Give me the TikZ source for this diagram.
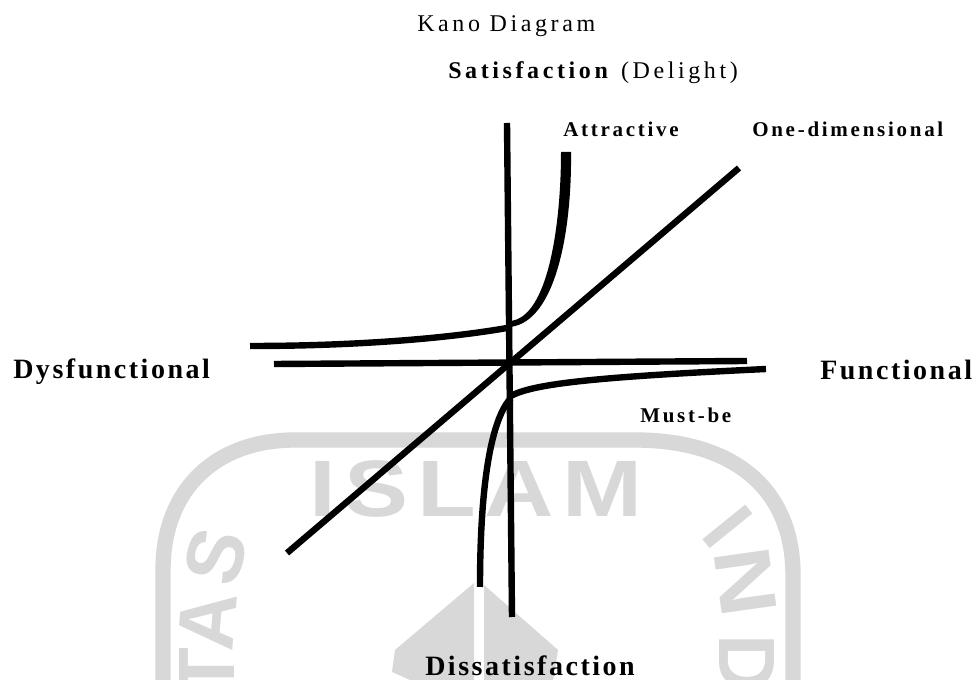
\documentclass[tikz,border=0pt]{standalone}
\usepackage{xcolor}
\usepackage{fontspec}
\usepackage{tikz}
\setmainfont{Liberation Serif}
\newfontfamily\topfont[LetterSpace=15]{Liberation Serif}
\newfontfamily\axisfont[LetterSpace=9]{Liberation Serif}
\newfontfamily\typefont[LetterSpace=13]{Liberation Serif}
\newfontfamily\markfont[LetterSpace=9]{Liberation Sans}
\definecolor{markgray}{RGB}{216, 216, 216}
\tikzset{
  axisline/.style={line width=4.8pt},
  curveline/.style={line width=4.8pt,line join=round},
  markline/.style={markgray,line width=11.5pt},
  marktext/.style={markgray,inner sep=0pt,font=\fontsize{60pt}{60pt}\selectfont\markfont\bfseries},
  axislabel/.style={anchor=base west,inner sep=0pt,font=\fontsize{21pt}{24pt}\selectfont\axisfont\bfseries},
  toplabel/.style={anchor=base west,inner sep=0pt,font=\fontsize{18pt}{20pt}\selectfont\topfont},
  typelabel/.style={anchor=base west,inner sep=0pt,font=\fontsize{15.75pt}{18pt}\selectfont\typefont\bfseries},
}
\begin{document}
\begin{tikzpicture}[x=0.75pt,y=-0.75pt]
  \fill[white] (0,0) rectangle (976,680);
  \useasboundingbox (0,0) rectangle (976,680);
  % watermark
  \draw[markline] (163,690) -- (163,570) .. controls (163,490) and (215,440) .. (295,440)
    -- (635,440) .. controls (735,440) and (793,490) .. (793,575) -- (793,690);
  \fill[markgray] (474,583) -- (395,650) -- (392,672) -- (410,680) -- (474,680) -- cycle;
  \fill[markgray] (484,585) -- (558,650) -- (553,680) -- (484,680) -- cycle;
  \node[marktext,anchor=base west,xscale=1.2] (markislam) at (309,517) {ISLAM};
  \node[marktext,rotate=75] (marks) at (216,557) {S};
  \node[marktext,rotate=85] (marka) at (208,621) {A};
  \node[marktext,rotate=90] (markt) at (207,672) {T};
  \node[marktext,rotate=-51] (marki) at (728,527) {I};
  \node[rotate=-82,marktext,xscale=1.2] (markn) at (746,582) {N};
  \node[marktext,rotate=-90] (markd) at (747,663) {D};
  % axes
  \coordinate (top) at (507,123);
  \coordinate (bottom) at (512,617);
  \coordinate (left) at (274,364);
  \coordinate (right) at (747,361);
  \coordinate (low) at (287,553);
  \coordinate (high) at (739,168);
  \draw[axisline] (top) -- (bottom);
  \draw[axisline] (left) -- (right);
  \draw[axisline] (low) -- (high);
  % curves
  \coordinate (attrleft) at (250,346);
  \coordinate (attrhead) at (507,328);
  \coordinate (mustright) at (766,369);
  \coordinate (musthead) at (511,396);
  \coordinate (mustfoot) at (511,398);
  \coordinate (mustlow) at (480,587);
  \fill (561,152) -- (571,152) .. controls (572,230) and (556,322) .. (510,327)
    -- (510,321) .. controls (548,318) and (561,225) .. (561,152) -- cycle;
  \draw[curveline] (attrleft) .. controls (360,346) and (450,338) .. (attrhead);
  \draw[curveline] (musthead) .. controls (535,382) and (620,376) .. (mustright);
  \draw[curveline] (mustfoot) .. controls (492,418) and (480,480) .. (mustlow);
  % labels
  \node[toplabel] (title) at (417,32) {Kano Diagram};
  \node[toplabel] (delight) at (448,79) {\textbf{Satisfaction} (Delight)};
  \node[typelabel] (attractive) at (563,137) {Attractive};
  \node[typelabel] (onedim) at (752,137) {One-dimensional};
  \node[typelabel] (mustbe) at (640,423) {Must-be};
  \node[axislabel] (dysfunctional) at (13,379) {Dysfunctional};
  \node[axislabel] (functional) at (820,380) {Functional};
  \node[axislabel] (dissatisfaction) at (425,676) {Dissatisfaction};
\end{tikzpicture}
\end{document}
